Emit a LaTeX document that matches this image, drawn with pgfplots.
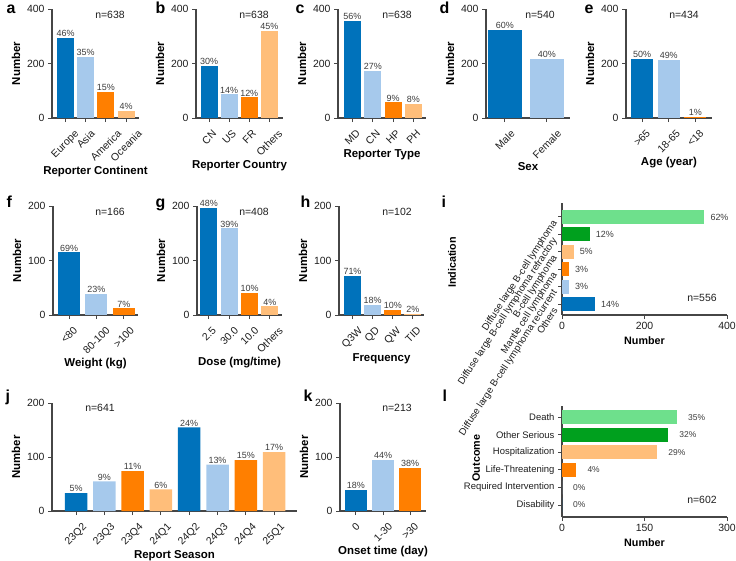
\documentclass[border=0pt]{standalone}
\usepackage{pgfplots}
\pgfplotsset{compat=1.18}
\usepackage{graphicx}
\usepackage{fontspec}
\setmainfont{Liberation Sans}
\newcommand{\R}[1]{\rotatebox{45}{#1}}
\definecolor{cDB}{RGB}{0,114,187}
\definecolor{cLB}{RGB}{166,201,236}
\definecolor{cOR}{RGB}{255,127,0}
\definecolor{cLO}{RGB}{255,190,122}
\definecolor{cLG}{RGB}{110,224,140}
\definecolor{cDG}{RGB}{0,160,30}
\definecolor{axcol}{RGB}{70,70,70}
\definecolor{tickcol}{RGB}{30,30,30}
\definecolor{pctcol}{RGB}{60,60,60}
\pgfplotsset{
  base/.style={
    scale only axis, clip=false, anchor=south west,
    axis x line*=bottom, axis y line*=left,
    axis line style={-, draw=axcol, line width=1.2bp},
    tick style={draw=axcol, line width=1bp},
    major tick length=4bp, tick align=outside,
    tick label style={font=\fontsize{10.5}{11}\selectfont, text=tickcol},
    label style={font=\fontsize{11.5}{13}\selectfont\bfseries, text=black},
    /pgf/number format/assume math mode=true,
    enlargelimits=false,
    point meta=explicit symbolic,
  },
  vb/.style={base, ymin=0,
    xticklabel style={anchor=north, inner sep=0pt, yshift=-7bp},
    ylabel={Number}},
  hb/.style={base, xmin=0, xlabel={Number}, bar width=14bp,
    label style={font=\fontsize{10.8}{12}\selectfont\bfseries},
    yticklabel style={font=\fontsize{9.5}{10}\selectfont}},
  B/.style={ybar, bar shift=0pt, draw=none, fill=#1, nodes near coords,
    nodes near coords style={font=\fontsize{9}{10}\selectfont, text=pctcol, inner sep=1bp}},
  H/.style={xbar, bar shift=0pt, draw=none, fill=#1, nodes near coords,
    nodes near coords style={font=\fontsize{9}{10}\selectfont, text=pctcol, inner sep=0pt, anchor=west, xshift=6bp}},
  HL/.style={xbar, bar shift=0pt, draw=none, fill=#1, nodes near coords,
    nodes near coords style={font=\fontsize{8.5}{10}\selectfont, text=pctcol, inner sep=0pt, anchor=west, xshift=11bp}},
}
\tikzset{
  lett/.style={anchor=base west, font=\fontsize{16}{16}\selectfont\bfseries},
  nn/.style={anchor=center, font=\fontsize{10.5}{12}\selectfont, text=tickcol},
}
\begin{document}
\begin{tikzpicture}
\useasboundingbox (0,0) rectangle (736bp,-561bp);
% ---------- a ----------
\begin{axis}[vb, at={(52bp,-118bp)}, width=87bp, height=109bp,
  xmin=-0.67, xmax=3.64, ymax=400, ytick={0,200,400}, bar width=17bp,
  xtick={0,1,2,3}, xticklabels={\R{Europe},\R{Asia},\R{America},\R{Oceania}}, xlabel={Reporter Continent}]
\addplot[B=cDB] coordinates {(0,294) [46\%]};
\addplot[B=cLB] coordinates {(1,223) [35\%]};
\addplot[B=cOR] coordinates {(2,96) [15\%]};
\addplot[B=cLO] coordinates {(3,25) [4\%]};
\end{axis}
% ---------- b ----------
\begin{axis}[vb, at={(196bp,-118bp)}, width=87bp, height=109bp,
  xmin=-0.65, xmax=3.68, ymax=400, ytick={0,200,400}, bar width=17bp,
  xtick={0,1,2,3}, xticklabels={\R{CN},\R{US},\R{FR},\R{Others}}, xlabel={Reporter Country}]
\addplot[B=cDB] coordinates {(0,191) [30\%]};
\addplot[B=cLB] coordinates {(1,87) [14\%]};
\addplot[B=cOR] coordinates {(2,76) [12\%]};
\addplot[B=cLO] coordinates {(3,320) [45\%]};
\end{axis}
% ---------- c ----------
\begin{axis}[vb, at={(338bp,-118bp)}, width=88bp, height=109bp,
  xmin=-0.71, xmax=3.62, ymax=400, ytick={0,200,400}, bar width=17bp,
  xtick={0,1,2,3}, xticklabels={\R{MD},\R{CN},\R{HP},\R{PH}}, xlabel={Reporter Type}]
\addplot[B=cDB] coordinates {(0,357) [56\%]};
\addplot[B=cLB] coordinates {(1,173) [27\%]};
\addplot[B=cOR] coordinates {(2,57) [9\%]};
\addplot[B=cLO] coordinates {(3,51) [8\%]};
\end{axis}
% ---------- d ----------
\begin{axis}[vb, at={(486bp,-118bp)}, width=84bp, height=109bp,
  xmin=-0.45, xmax=1.55, ymax=400, ytick={0,200,400}, bar width=34bp,
  xtick={0,1}, xticklabels={\R{Male},\R{Female}}, xlabel={Sex}]
\addplot[B=cDB] coordinates {(0,324) [60\%]};
\addplot[B=cLB] coordinates {(1,216) [40\%]};
\end{axis}
% ---------- e ----------
\begin{axis}[vb, at={(626bp,-118bp)}, width=86bp, height=109bp,
  xmin=-0.6, xmax=2.62, ymax=400, ytick={0,200,400}, bar width=22bp,
  xtick={0,1,2}, xticklabels={\R{>65},\R{18-65},\R{<18}}, xlabel={Age (year)}]
\addplot[B=cDB] coordinates {(0,217) [50\%]};
\addplot[B=cLB] coordinates {(1,213) [49\%]};
\addplot[B=cOR] coordinates {(2,4) [1\%]};
\end{axis}
% ---------- f ----------
\begin{axis}[vb, at={(53bp,-315bp)}, width=85bp, height=109bp,
  xmin=-0.59, xmax=2.52, ymax=200, ytick={0,100,200}, bar width=22bp,
  xtick={0,1,2}, xticklabels={\R{<80},\R{80-100},\R{>100}}, xlabel={Weight (kg)}]
\addplot[B=cDB] coordinates {(0,115) [69\%]};
\addplot[B=cLB] coordinates {(1,39) [23\%]};
\addplot[B=cOR] coordinates {(2,12) [7\%]};
\end{axis}
% ---------- g ----------
\begin{axis}[vb, at={(197bp,-315bp)}, width=85bp, height=109bp,
  xmin=-0.59, xmax=3.6, ymax=200, ytick={0,100,200}, bar width=17bp,
  xtick={0,1,2,3}, xticklabels={\R{2.5},\R{30.0},\R{10.0},\R{Others}}, xlabel={Dose (mg/time)}]
\addplot[B=cDB] coordinates {(0,196) [48\%]};
\addplot[B=cLB] coordinates {(1,159) [39\%]};
\addplot[B=cOR] coordinates {(2,40) [10\%]};
\addplot[B=cLO] coordinates {(3,16) [4\%]};
\end{axis}
% ---------- h ----------
\begin{axis}[vb, at={(339bp,-315bp)}, width=85bp, height=109bp,
  xmin=-0.67, xmax=3.55, ymax=200, ytick={0,100,200}, bar width=17bp,
  xtick={0,1,2,3}, xticklabels={\R{Q3W},\R{QD},\R{QW},\R{TID}}, xlabel={Frequency}]
\addplot[B=cDB] coordinates {(0,72) [71\%]};
\addplot[B=cLB] coordinates {(1,18) [18\%]};
\addplot[B=cOR] coordinates {(2,10) [10\%]};
\addplot[B=cLO] coordinates {(3,2) [2\%]};
\end{axis}
% ---------- i ----------
\begin{axis}[hb, at={(562bp,-315bp)}, width=165bp, height=112bp,
  xmax=400, xtick={0,200,400}, ymin=-0.63, ymax=5.8, ytick={0,...,5},
  yticklabels={Others,Diffuse large B-cell lymphoma recurrent,Mantle cell lymphoma,B-cell lymphoma,Diffuse large B-cell lymphoma refractory,Diffuse large B-cell lymphoma},
  yticklabel style={rotate=57, anchor=east, inner sep=0pt, xshift=-5bp, font=\fontsize{9.8}{10}\selectfont},
  ylabel={Indication}, ylabel style={at={(axis description cs:-0.667,0.47)}, anchor=center}]
\addplot[H=cLG] coordinates {(345,5) [62\%]};
\addplot[H=cDG] coordinates {(67,4) [12\%]};
\addplot[H=cLO] coordinates {(28,3) [5\%]};
\addplot[H=cOR] coordinates {(17,2) [3\%]};
\addplot[H=cLB] coordinates {(17,1) [3\%]};
\addplot[H=cDB] coordinates {(80,0) [14\%]};
\end{axis}
% ---------- j ----------
\begin{axis}[vb, at={(52bp,-511bp)}, width=245bp, height=108bp,
  xmin=-0.85, xmax=7.81, ymax=200, ytick={0,100,200}, bar width=22.5bp,
  xtick={0,...,7}, xticklabels={\R{23Q2},\R{23Q3},\R{23Q4},\R{24Q1},\R{24Q2},\R{24Q3},\R{24Q4},\R{25Q1}}, xlabel={Report Season}]
\addplot[B=cDB] coordinates {(0,33) [5\%] (4,155) [24\%]};
\addplot[B=cLB] coordinates {(1,55) [9\%] (5,86) [13\%]};
\addplot[B=cOR] coordinates {(2,74) [11\%] (6,94) [15\%]};
\addplot[B=cLO] coordinates {(3,40) [6\%] (7,109) [17\%]};
\end{axis}
% ---------- k ----------
\begin{axis}[vb, at={(340bp,-511bp)}, width=86bp, height=108bp,
  xmin=-0.59, xmax=2.59, ymax=200, ytick={0,100,200}, bar width=22bp,
  xtick={0,1,2}, xticklabels={\R{0},\R{1-30},\R{>30}}, xlabel={Onset time (day)}]
\addplot[B=cDB] coordinates {(0,39) [18\%]};
\addplot[B=cLB] coordinates {(1,94) [44\%]};
\addplot[B=cOR] coordinates {(2,80) [38\%]};
\end{axis}
% ---------- l ----------
\begin{axis}[hb, at={(562bp,-517bp)}, width=165bp, height=111bp,
  xmax=300, xtick={0,150,300}, ymin=-0.68, ymax=5.63, ytick={0,...,5},
  yticklabels={Disability,Required Intervention,Life-Threatening,Hospitalization,Other Serious,Death},
  ylabel={Outcome}, ylabel style={at={(axis description cs:-0.52,0.53)}, anchor=center}]
\addplot[HL=cLG] coordinates {(209,5) [35\%]};
\addplot[HL=cDG] coordinates {(193,4) [32\%]};
\addplot[HL=cLO] coordinates {(173,3) [29\%]};
\addplot[HL=cOR] coordinates {(26,2) [4\%]};
\addplot[HL=cLB] coordinates {(0,1) [0\%]};
\addplot[HL=cDB] coordinates {(0,0) [0\%]};
\end{axis}
% ---------- letters and n ----------
\node[lett] at (3bp,-13bp) {a};
\node[lett] at (152bp,-13bp) {b};
\node[lett] at (292bp,-13bp) {c};
\node[lett] at (436bp,-13bp) {d};
\node[lett] at (581bp,-13bp) {e};
\node[lett] at (3bp,-207bp) {f};
\node[lett] at (152bp,-207bp) {g};
\node[lett] at (297bp,-207bp) {h};
\node[lett] at (438bp,-207bp) {i};
\node[lett] at (2bp,-401bp) {j};
\node[lett] at (300bp,-401bp) {k};
\node[lett] at (439bp,-401bp) {l};
\node[nn] at (110bp,-15bp) {n=638};
\node[nn] at (254bp,-15bp) {n=638};
\node[nn] at (397bp,-15bp) {n=638};
\node[nn] at (540bp,-15bp) {n=540};
\node[nn] at (684bp,-15bp) {n=434};
\node[nn] at (110bp,-212bp) {n=166};
\node[nn] at (254bp,-212bp) {n=408};
\node[nn] at (397bp,-212bp) {n=102};
\node[nn] at (702bp,-298bp) {n=556};
\node[nn] at (100bp,-408bp) {n=641};
\node[nn] at (397bp,-408bp) {n=213};
\node[nn] at (702bp,-500bp) {n=602};
\end{tikzpicture}
\end{document}
